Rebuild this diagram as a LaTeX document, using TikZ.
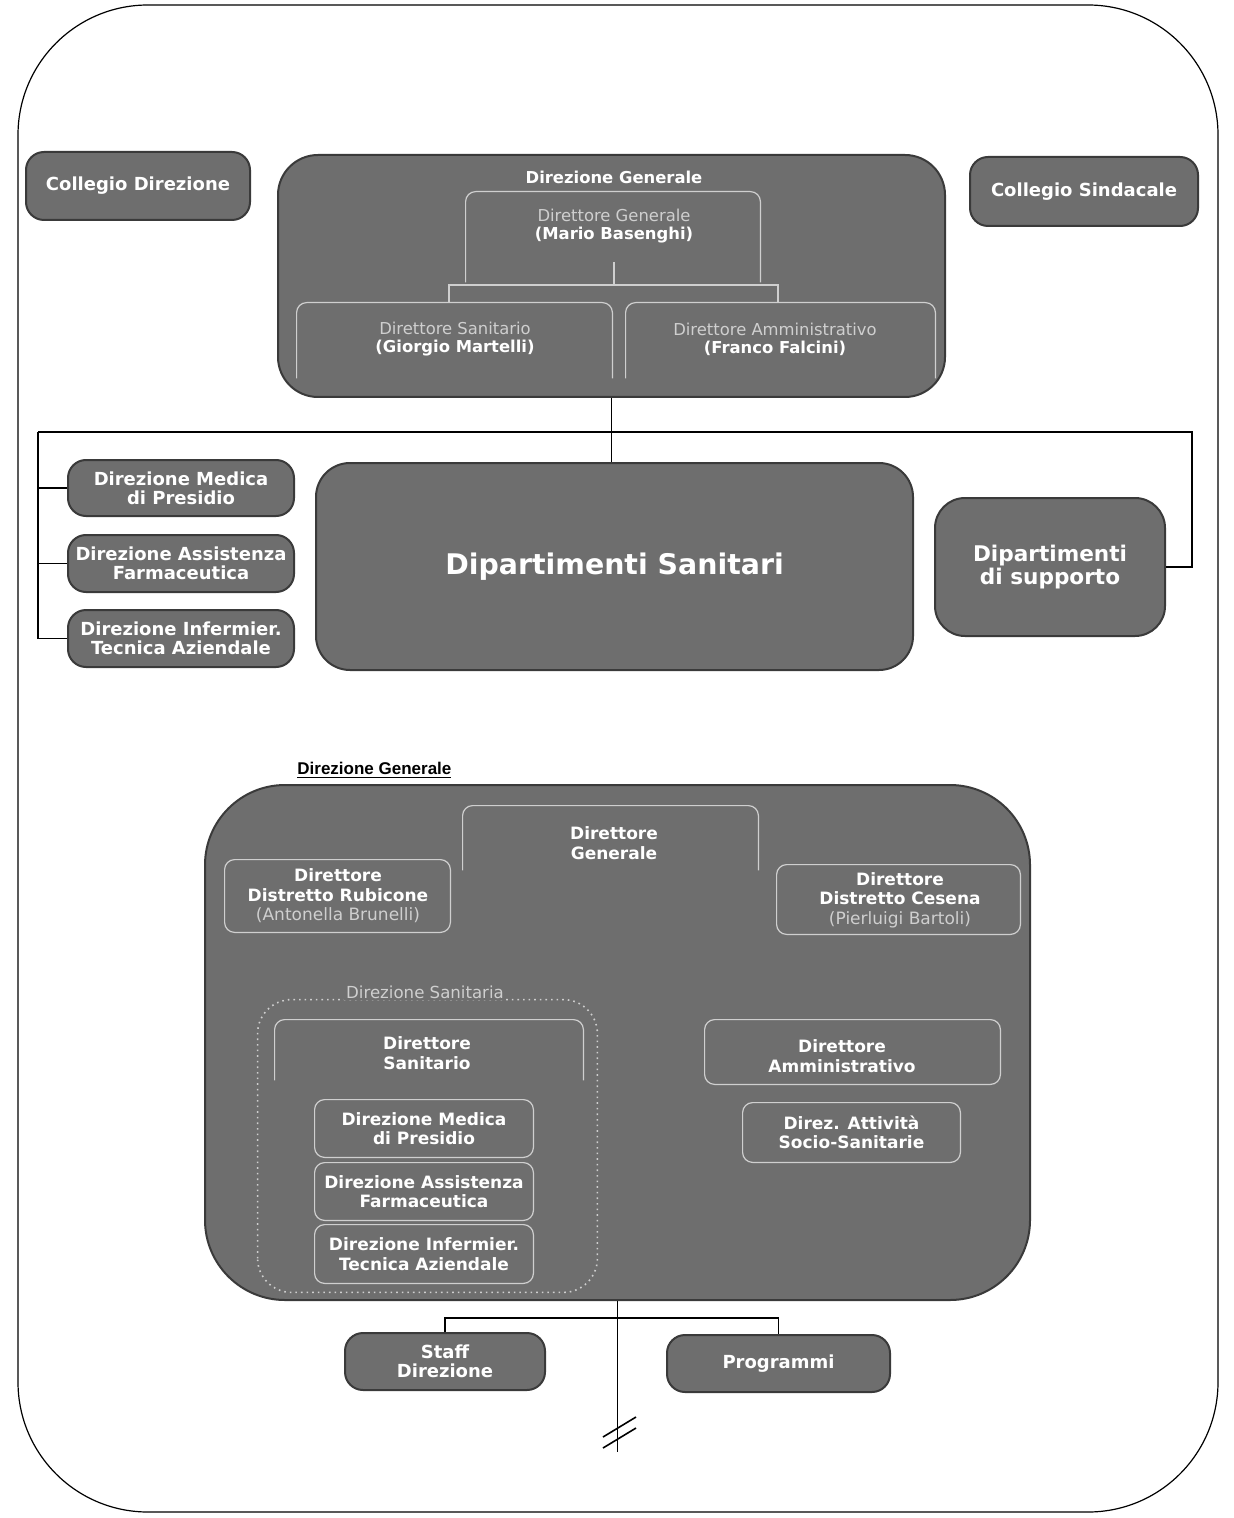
\documentclass[tikz,border=0pt]{standalone}
\usepackage{fontspec}
\setmainfont{DejaVu Sans}
\newfontfamily\arialb{Liberation Sans}
\usetikzlibrary{fit}
\definecolor{boxfill}{HTML}{6E6E6E}
\definecolor{boxedge}{HTML}{3A3A3A}
\definecolor{faint}{HTML}{CFCFCF}
\tikzset{
  dark/.style={draw=boxedge, line width=1pt, fill=boxfill, rounded corners=9pt, inner sep=0pt, align=center, text=white, font=\bfseries\fontsize{9}{9.5}\selectfont},
  sz/.style 2 args={minimum width={#1*0.5pt}, minimum height={#2*0.5pt}},
  slot/.style={inner sep=0pt, align=center, text=white, font=\bfseries\fontsize{8.5}{9.8}\selectfont},
  txt/.style={inner sep=0pt, align=center, text=white, font=\bfseries\fontsize{8.5}{9.8}\selectfont},
  innerline/.style={draw=faint, line width=0.6pt, rounded corners=5pt},
  innerconn/.style={draw=faint, line width=0.7pt},
  conn/.style={draw=black, line width=0.8pt},
  frame/.style={draw=black, line width=0.6pt, rounded corners=65pt, inner sep=0pt}
}
\newcommand{\fnt}[1]{{\color{faint}\mdseries #1}}
\begin{document}
\begin{tikzpicture}[x=0.5pt,y=-0.5pt]
\useasboundingbox[fill=white] (0,0) rectangle (1234,1518);
\node[frame, fit={(18,5) (1218,1512)}] (frame) {};

% ---------- top part ----------
\node[dark, sz={224}{68}] (cd) at (138,186) {Collegio Direzione};
\node[dark, sz={228}{69}] (cs) at (1084,191.5) {Collegio Sindacale};
\node[dark, rounded corners=20pt, sz={667}{242}] (dgbox) at (611.5,276) {};
\node[txt, font=\bfseries\fontsize{8.2}{9.5}\selectfont] (dgtitle) at (614,177) {Direzione Generale};

\node[slot, fit={(466,192) (760,282)}] (dgib) {};
\draw[innerline] (dgib.south west) -- (dgib.north west) -- (dgib.north east) -- (dgib.south east);
\node[txt, font=\bfseries\fontsize{8.2}{9}\selectfont] (dgit) at (614,226) {\fnt{Direttore Generale}\\(Mario Basenghi)};

\node[slot, fit={(297,303) (612,378)}] (dsb) {};
\draw[innerline] (dsb.south west) -- (dsb.north west) -- (dsb.north east) -- (dsb.south east);
\node[txt, font=\bfseries\fontsize{8.2}{9}\selectfont] (dst) at (455,339) {\fnt{Direttore Sanitario}\\(Giorgio Martelli)};

\node[slot, fit={(626,303) (935,378)}] (dab) {};
\draw[innerline] (dab.south west) -- (dab.north west) -- (dab.north east) -- (dab.south east);
\node[txt, font=\bfseries\fontsize{8.2}{9}\selectfont] (dat) at (775,339) {\fnt{Direttore Amministrativo}\\(Franco Falcini)};

\coordinate (tj) at (614,285);
\draw[innerconn] (dgit.south |- 0,262) -- (tj);
\draw[innerconn] (tj) -- (449,285) -- (449,303);
\draw[innerconn] (tj) -- (778,285) -- (778,303);

% ---------- middle ----------
\node[dark, sz={226}{56}] (dmp) at (181,488) {Direzione Medica\\di Presidio};
\node[dark, sz={226}{57}] (daf) at (181,563.5) {Direzione Assistenza\\Farmaceutica};
\node[dark, sz={226}{57}] (dit) at (181,638.5) {Direzione Infermier.\\Tecnica Aziendale};
\node[dark, rounded corners=17pt, font=\bfseries\fontsize{14.2}{16}\selectfont, sz={597}{207}] (dsan) at (614.5,566.5) {Dipartimenti Sanitari};
\node[dark, rounded corners=15pt, font=\bfseries\fontsize{10.8}{11.5}\selectfont, sz={230}{138}] (dsup) at (1050,567) {Dipartimenti\\di supporto};

\coordinate (lt) at (38,432);
\coordinate (rt) at (1192,432);
\draw[conn] (dgbox.south) -- (dgbox.south |- dsan.north);
\draw[conn] (lt) -- (rt) |- (dsup.east);
\draw[conn] (lt) |- (dit.west);
\draw[conn] (dmp.west) -- (dmp.west -| lt);
\draw[conn] (daf.west) -- (daf.west -| lt);

% ---------- bottom ----------
\node[anchor=west, inner sep=0pt, font=\arialb\bfseries\fontsize{8.5}{10}\selectfont] (bdglabel) at (297,770) {\underline{Direzione Generale}};
\node[dark, rounded corners=40pt, sz={825}{515}] (bdg) at (617.5,1042.5) {};

\node[slot, fit={(463,806) (758,870)}] (bgib) {};
\draw[innerline] (bgib.south west) -- (bgib.north west) -- (bgib.north east) -- (bgib.south east);
\node[txt] (bgit) at (614,843) {Direttore\\Generale};

\node[slot, fit={(225,860) (450,932)}] (rub) {};
\draw[innerline] (rub.south west) rectangle (rub.north east);
\node[txt] (rubt) at (338,896) {Direttore\\Distretto Rubicone\\\fnt{(Antonella Brunelli)}};

\node[slot, fit={(777,865) (1020,934)}] (ces) {};
\draw[innerline] (ces.south west) rectangle (ces.north east);
\node[txt] (cest) at (900,900) {Direttore\\Distretto Cesena\\\fnt{(Pierluigi Bartoli)}};

\node[slot, fit={(258,1000) (597,1292)}] (dsanit) {};
\draw[draw=faint, line width=0.8pt, dotted, rounded corners=17pt] (dsanit.south west) rectangle (dsanit.north east);
\node[txt, font=\mdseries\fontsize{8.3}{9.5}\selectfont, text=faint, fill=boxfill, inner sep=1pt] (dsanitl) at (425,992) {Direzione Sanitaria};

\node[slot, fit={(275,1020) (583,1080)}] (bds) {};
\draw[innerline] (bds.south west) -- (bds.north west) -- (bds.north east) -- (bds.south east);
\node[txt] (bdst) at (427,1053) {Direttore\\Sanitario};

\node[slot, sz={218}{57}] (bdmp) at (424,1128.5) {Direzione Medica\\di Presidio};
\draw[innerline] (bdmp.south west) rectangle (bdmp.north east);
\node[slot, sz={218}{57}] (bdaf) at (424,1191.5) {Direzione Assistenza\\Farmaceutica};
\draw[innerline] (bdaf.south west) rectangle (bdaf.north east);
\node[slot, sz={218}{58}] (bdit) at (424,1254) {Direzione Infermier.\\Tecnica Aziendale};
\draw[innerline] (bdit.south west) rectangle (bdit.north east);

\node[slot, sz={295}{64}] (bda) at (852.5,1052) {};
\draw[innerline] (bda.south west) rectangle (bda.north east);
\node[txt] (bdat) at (842,1056) {Direttore\\Amministrativo};
\node[slot, sz={217}{59}] (bass) at (851.5,1132.5) {Direz. Attività\\Socio-Sanitarie};
\draw[innerline] (bass.south west) rectangle (bass.north east);

\node[dark, sz={200}{57}] (staff) at (445,1361.5) {Staff\\Direzione};
\node[dark, sz={223}{57}] (prog) at (778.5,1363.5) {Programmi};

\coordinate (bj) at (617.5,1318);
\coordinate (bend) at (617.5,1452);
\draw[conn] (bdg.south) -- (bend);
\draw[conn] (staff.north) |- (bj) -| (prog.north);
\draw[conn] (603,1448) -- (636,1428);
\draw[conn] (603,1437) -- (636,1417);
\end{tikzpicture}
\end{document}
